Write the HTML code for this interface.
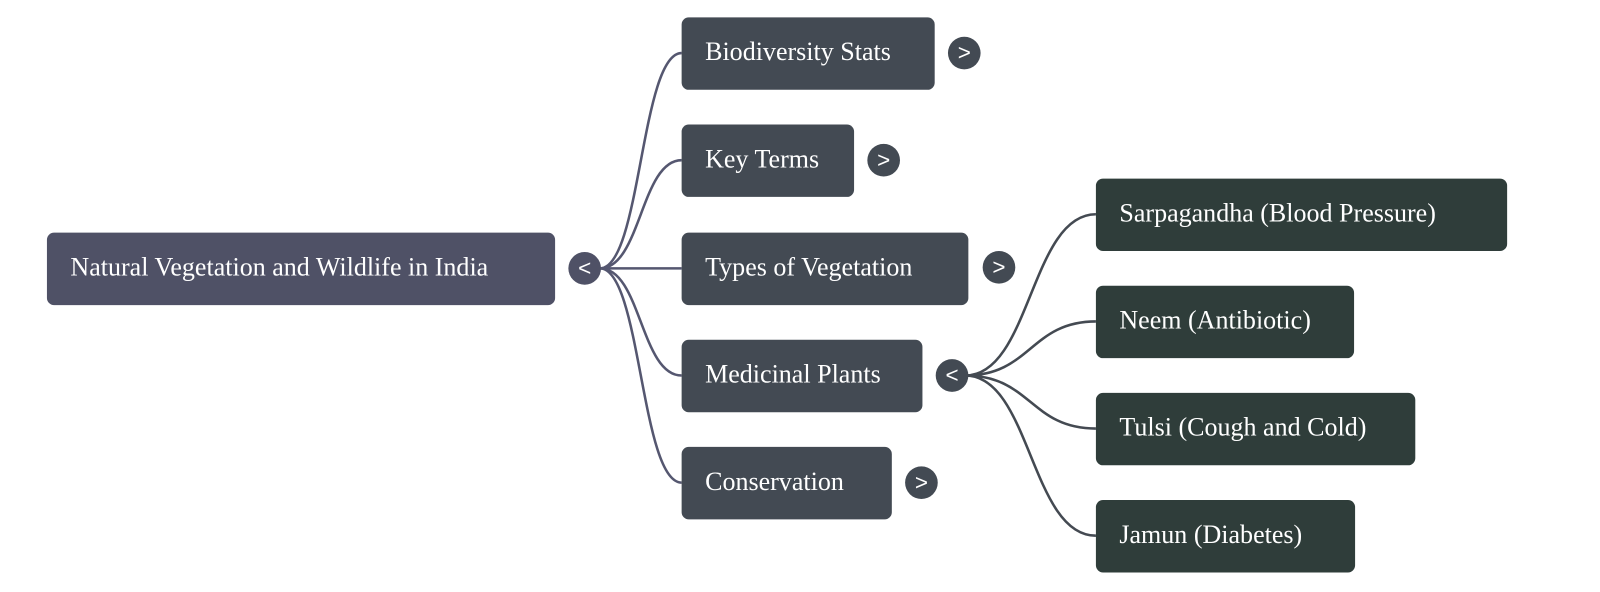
<!DOCTYPE html>
<html><head><style>
html,body{margin:0;width:1600px;height:591px;background:#fff;overflow:hidden;}
#w{position:absolute;left:0;top:0;width:1568px;height:580px;transform:scale(1.0204);transform-origin:0 0;font-family:"Liberation Serif",serif;}
.b{position:absolute;border-radius:7px;color:#fff;font-size:25.5px;box-sizing:border-box;padding-left:23px;padding-bottom:3px;display:flex;align-items:center;height:71px;white-space:nowrap;}
.r{background:#4f5166;}
.l{background:#434a53;}
.m{background:#2f3d3a;}
.c{position:absolute;width:32px;height:32px;border-radius:50%;color:#fff;font-family:"Liberation Sans",sans-serif;font-size:22px;display:flex;align-items:center;justify-content:center;}
svg{position:absolute;left:0;top:0;}
</style></head><body><div id="w">
<svg width="1568" height="580" fill="none" stroke-width="2.5">
<g stroke="#555770">
<path d="M588 263 C628 263 628 52 668 52"/>
<path d="M588 263 C628 263 628 157 668 157"/>
<path d="M588 263 L668 263"/>
<path d="M588 263 C628 263 628 368 668 368"/>
<path d="M588 263 C628 263 628 473 668 473"/>
</g>
<g stroke="#444a52">
<path d="M946 368 C1010 368 1010 210 1074 210"/>
<path d="M946 368 C1010 368 1010 315 1074 315"/>
<path d="M946 368 C1010 368 1010 420 1074 420"/>
<path d="M946 368 C1010 368 1010 525 1074 525"/>
</g>
</svg>
<div class="b r" style="left:46px;top:228px;width:498px">Natural Vegetation and Wildlife in India</div>
<div class="c" style="left:557px;top:247px;background:#4f5166">&lt;</div>
<div class="b l" style="left:668px;top:17px;width:248px">Biodiversity Stats</div>
<div class="c" style="left:929px;top:36px;background:#434a53">&gt;</div>
<div class="b l" style="left:668px;top:122px;width:169px">Key Terms</div>
<div class="c" style="left:850px;top:141px;background:#434a53">&gt;</div>
<div class="b l" style="left:668px;top:228px;width:281px">Types of Vegetation</div>
<div class="c" style="left:963px;top:246px;background:#434a53">&gt;</div>
<div class="b l" style="left:668px;top:333px;width:236px">Medicinal Plants</div>
<div class="c" style="left:917px;top:352px;background:#434a53">&lt;</div>
<div class="b l" style="left:668px;top:438px;width:206px">Conservation</div>
<div class="c" style="left:887px;top:457px;background:#434a53">&gt;</div>
<div class="b m" style="left:1074px;top:175px;width:403px">Sarpagandha (Blood Pressure)</div>
<div class="b m" style="left:1074px;top:280px;width:253px">Neem (Antibiotic)</div>
<div class="b m" style="left:1074px;top:385px;width:313px">Tulsi (Cough and Cold)</div>
<div class="b m" style="left:1074px;top:490px;width:254px">Jamun (Diabetes)</div>
</div></body></html>
